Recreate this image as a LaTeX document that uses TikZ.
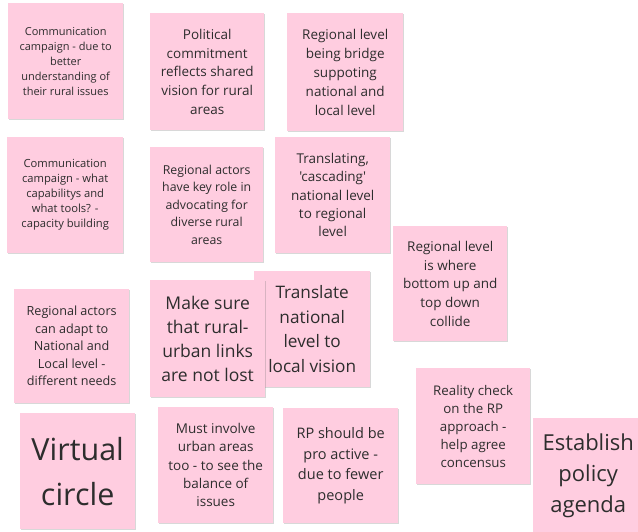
\documentclass[tikz,border=0pt]{standalone}
\usepackage{fontspec}
\setmainfont{Open Sans}[Ligatures=TeXOff]
\usetikzlibrary{shadows}
\definecolor{notepink}{RGB}{255,205,224}
\definecolor{notetext}{RGB}{45,45,45}
\newcommand\fsz[2]{\fontsize{#1}{#2}\selectfont}
\tikzset{
  note/.style={fill=notepink, text=notetext, align=center, inner sep=0pt,
    anchor=north west,
    drop shadow={shadow xshift=0.7pt, shadow yshift=-1.2pt, opacity=0.25, fill=black!60}}
}
\begin{document}
\begin{tikzpicture}[x=1pt,y=-1pt]
\useasboundingbox (0,0) rectangle (638,532);
\fill[white] (0,0) rectangle (638,532);
\node[note, minimum width=115pt, minimum height=116pt, font=\fsz{11}{15}] (n1) at (8,3)
  {Communication\\campaign - due to\\better\\understanding of\\their rural issues};
\node[note, minimum width=114pt, minimum height=117pt, font=\fsz{13.5}{18.7}] (n2) at (150,13)
  {Political\\commitment\\reflects shared\\vision for rural\\areas};
\node[note, minimum width=116pt, minimum height=118pt, font=\fsz{13.5}{19}] (n3) at (287,13)
  {Regional level\\being bridge\\suppoting\\national and\\local level};
\node[note, minimum width=116pt, minimum height=116pt, font=\fsz{11.2}{15}] (n4) at (7,137)
  {Communication\\campaign - what\\capabilitys and\\what tools? -\\capacity building};
\node[note, minimum width=113pt, minimum height=115pt, font=\fsz{12.3}{17.5}] (n5) at (150,147)
  {Regional actors\\have key role in\\advocating for\\diverse rural\\areas};
\node[note, minimum width=115pt, minimum height=116pt, font=\fsz{13.5}{18.3}] (n6) at (275,137)
  {Translating,\\'cascading'\\national level\\to regional\\level};
\node[note, minimum width=114pt, minimum height=115pt, font=\fsz{13.5}{18.7}] (n7) at (393,226)
  {Regional level\\is where\\bottom up and\\top down\\collide};
\node[note, minimum width=115pt, minimum height=114pt, font=\fsz{12.6}{17.5}] (n8) at (14,289)
  {Regional actors\\can adapt to\\National and\\Local level -\\different needs};
\node[note, minimum width=116pt, minimum height=116pt, font=\fsz{17.2}{24.5}] (n10) at (254,271)
  {Translate\\national\\level to\\local vision};
\node[note, minimum width=115pt, minimum height=117pt, font=\fsz{17.5}{24}] (n9) at (150,280)
  {Make sure\\that rural-\\urban links\\are not lost};
\node[note, minimum width=114pt, minimum height=116pt, font=\fsz{13.3}{18}] (n11) at (416,368)
  {Reality check\\on the RP\\approach -\\help agree\\concensus};
\node[note, minimum width=110pt, minimum height=116pt, font=\fsz{22}{31}] (n12) at (533,418)
  {Establish\\policy\\agenda};
\node[note, minimum width=115pt, minimum height=116pt, font=\fsz{30.5}{45}] (n13) at (20,413)
  {Virtual\\circle};
\node[note, minimum width=115pt, minimum height=116pt, font=\fsz{13.5}{18.3}] (n14) at (158,407)
  {Must involve\\urban areas\\too - to see the\\balance of\\issues};
\node[note, minimum width=115pt, minimum height=115pt, font=\fsz{14.5}{20.6}] (n15) at (283,408)
  {RP should be\\pro active -\\due to fewer\\people};
\end{tikzpicture}
\end{document}
